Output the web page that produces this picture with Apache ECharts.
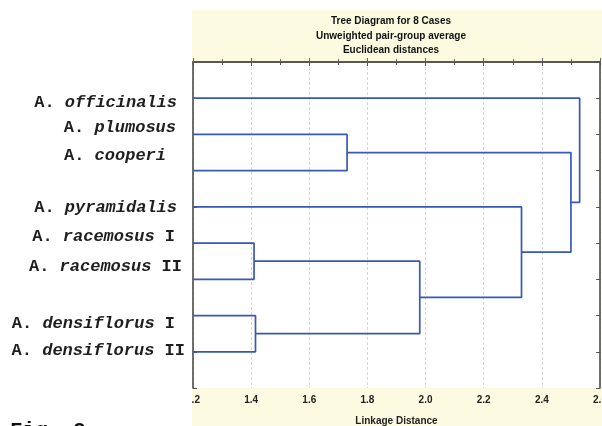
<!DOCTYPE html>
<html><head><meta charset="utf-8">
<script src="https://cdn.jsdelivr.net/npm/echarts@6/dist/echarts.min.js"></script>
<style>html,body{margin:0;padding:0;background:#fff}#c{width:602px;height:426px}</style>
</head><body><div id="c"></div>
<script>
// ---- data ----
const leafLabels = ['A. officinalis','A. plumosus','A. cooperi','A. pyramidalis','A. racemosus I','A. racemosus II','A. densiflorus I','A. densiflorus II'];
// merges: [childA, childB, linkage distance]; ids 0-7 are leaves, 8+ are clusters in order
const merges = [[4,5,1.41],[6,7,1.415],[1,2,1.73],[8,9,1.98],[3,11,2.33],[10,12,2.50],[0,13,2.53]];
const leafStart = 1.2;
const xMin = 1.2, xMax = 2.6, xInterval = 0.2;
const titleLines = ['Tree Diagram for 8 Cases','Unweighted pair-group average','Euclidean distances'];
const axisTitle = 'Linkage Distance';
const figLabel = 'Fig. 2';
// ---- layout (label placement) ----
const labelShiftY = [4, -7, -15, 1, -6, -13, 8, -1];
const labelPadRight = [8, 9, 19, 8, 10, 3, 10, 0];

const lineColor = '#3858b8';
const frameColor = '#4d4d45';

// node positions
const nodes = leafLabels.map((_, i) => ({x: leafStart, y: i + 1}));
const series = [];
merges.forEach(m => {
  const a = nodes[m[0]], b = nodes[m[1]], h = m[2];
  nodes.push({x: h, y: (a.y + b.y) / 2});
  series.push({
    type: 'line', symbol: 'none', silent: true, animation: false,
    lineStyle: {color: lineColor, width: 1.7},
    data: [[a.x, a.y], [h, a.y], [h, b.y], [b.x, b.y]]
  });
});

// rich label styles
const rich = {};
const parts = leafLabels.map(s => { const r = /^(A\. )(\S+)(.*)$/.exec(s); return [r[1], r[2], r[3]]; });
parts.forEach((p, i) => {
  const d = labelShiftY[i];
  const pt = d > 0 ? 2 * d : 0, pb = d < 0 ? -2 * d : 0;
  const base = {fontFamily: 'Liberation Mono', fontSize: 17, fontWeight: 'bold', color: '#1e1e1e'};
  const lastIsSuffix = p[2].length > 0;
  rich['u' + i] = Object.assign({}, base, {fontStyle: 'normal', padding: [pt, 0, pb, 0]});
  rich['i' + i] = Object.assign({}, base, {fontStyle: 'italic', padding: [pt, lastIsSuffix ? 0 : labelPadRight[i], pb, 0]});
  rich['s' + i] = Object.assign({}, base, {fontStyle: 'normal', padding: [pt, labelPadRight[i], pb, 0]});
});

const chart = echarts.init(document.getElementById('c'), null, {renderer: 'canvas'});
chart.setOption({
  animation: false,
  backgroundColor: '#ffffff',
  title: {
    text: titleLines.join('\n'),
    left: 386, top: 9, textAlign: 'center',
    textStyle: {fontFamily: 'Liberation Sans', fontSize: 10, fontWeight: 'bold', color: '#111', lineHeight: 14.5}
  },
  graphic: [
    {type: 'rect', z: -10, shape: {x: 192, y: 10, width: 410, height: 52}, style: {fill: '#fcfbe2'}},
    {type: 'rect', z: -10, shape: {x: 192, y: 387, width: 410, height: 39}, style: {fill: '#fcfbe2'}},
    {type: 'rect', z: 100, shape: {x: 0, y: 391, width: 192, height: 22}, style: {fill: '#ffffff'}},
    {type: 'text', z: 101, left: 10, top: 420, style: {text: figLabel, fontFamily: 'Liberation Mono', fontSize: 21, fontWeight: 'bold', fill: '#111'}}
  ],
  grid: {left: 193, right: 2, top: 62, bottom: 38, outerBoundsMode: 'none', containLabel: false, backgroundColor: '#fff', show: true, borderWidth: 0},
  xAxis: [{
    type: 'value', min: xMin, max: xMax, interval: xInterval, position: 'bottom',
    axisLine: {show: true, lineStyle: {color: frameColor, width: 1.6}},
    axisTick: {show: true, inside: true, length: 4, lineStyle: {color: '#666'}},
    minorTick: {show: true, splitNumber: 2, length: 3, lineStyle: {color: '#666'}},
    splitLine: {show: true, lineStyle: {color: '#d6d6d6', width: 1, type: [3, 2]}},
    axisLabel: {margin: 7, fontFamily: 'Liberation Sans', fontSize: 10, fontWeight: 'bold', color: '#222',
      formatter: v => v.toFixed(1)},
    name: axisTitle, nameLocation: 'middle', nameGap: 28,
    nameTextStyle: {fontFamily: 'Liberation Sans', fontSize: 10, fontWeight: 'bold', color: '#222'}
  }, {
    type: 'value', min: xMin, max: xMax, interval: xInterval, position: 'top',
    axisLine: {show: true, lineStyle: {color: frameColor, width: 1.6}},
    axisTick: {show: true, inside: true, length: 4, lineStyle: {color: '#555'}},
    minorTick: {show: true, splitNumber: 2, length: 3, lineStyle: {color: '#555'}},
    splitLine: {show: false}, axisLabel: {show: false}
  }],
  yAxis: [{
    type: 'value', inverse: true, min: 0, max: leafLabels.length + 1, interval: 1, position: 'left',
    axisLine: {show: true, lineStyle: {color: frameColor, width: 1.6}},
    axisTick: {show: true, inside: true, length: 4, lineStyle: {color: '#555'}},
    splitLine: {show: false},
    axisLabel: {
      margin: 8, rich: rich,
      formatter: v => {
        const i = Math.round(v) - 1;
        if (i < 0 || i >= leafLabels.length) return '';
        const p = parts[i];
        let s = '{u' + i + '|' + p[0] + '}{i' + i + '|' + p[1] + '}';
        if (p[2].length) s += '{s' + i + '|' + p[2] + '}';
        return s;
      }
    }
  }, {
    type: 'value', inverse: true, min: 0, max: leafLabels.length + 1, interval: 1, position: 'right',
    axisLine: {show: true, lineStyle: {color: frameColor, width: 1.6}},
    axisTick: {show: true, inside: true, length: 4, lineStyle: {color: '#555'}},
    splitLine: {show: false}, axisLabel: {show: false}
  }],
  series: series
});
</script></body></html>
